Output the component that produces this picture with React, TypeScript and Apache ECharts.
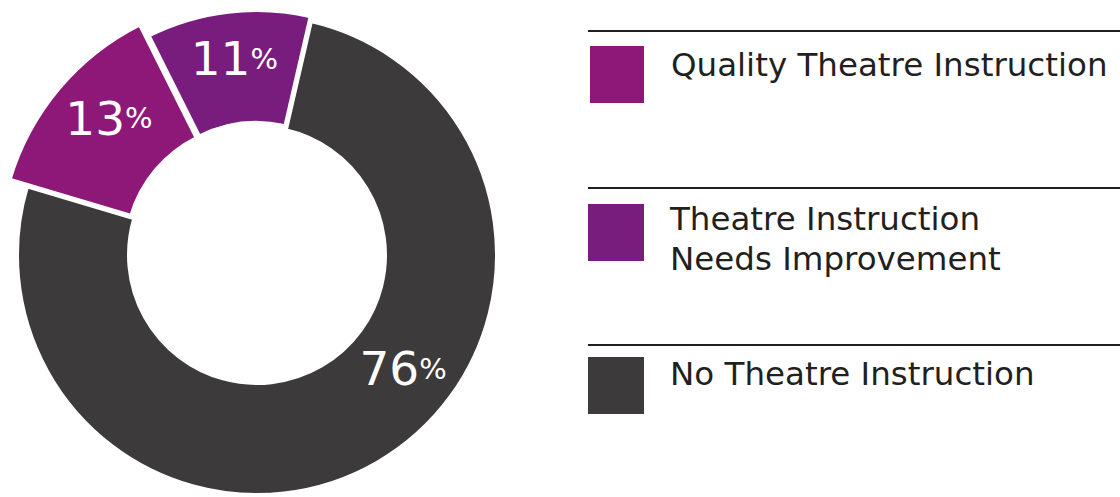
import React, { useEffect, useRef } from "react";
import * as echarts from "echarts";

const categories = [
  "Quality Theatre Instruction",
  "Theatre Instruction\nNeeds Improvement",
  "No Theatre Instruction",
];
const values = [13, 11, 76];
const colors = ["#8E1878", "#781D7E", "#3C3A3B"];
const exploded = [true, true, false];

export default function App() {
  const ref = useRef<HTMLDivElement>(null);
  useEffect(() => {
    document.body.style.margin = "0";
    const chart = echarts.init(ref.current!, null, { renderer: "svg" });
    const labelFont = "DejaVu Sans";
    const legendFont = "DejaVu Sans";
    // per-slice outer radius and label nudges (layout only)
    const outerR = [255, 241, 240];
    const labelShift: [number, number][] = [
      [4, -9],
      [0, -6],
      [52, -48],
    ];
    const mkLegend = (i: number, top: number, h: number, pad: number[]) => ({
      orient: "vertical" as const,
      left: 588,
      top,
      padding: 0,
      icon: "rect",
      itemWidth: 56,
      itemHeight: h,
      selectedMode: false,
      data: [{ name: categories[i], itemStyle: { color: colors[i], opacity: 1 } }],
      formatter: (name: string) => `{t|${name}}`,
      textStyle: {
        fontFamily: legendFont,
        fontSize: 32.5,
        color: "#231F20",
        rich: {
          t: {
            fontFamily: legendFont,
            fontSize: 32.5,
            color: "#231F20",
            lineHeight: 40,
            padding: pad,
          },
        },
      },
    });
    const series = categories.map((_, k) => ({
      type: "pie",
      center: [257, 255],
      radius: [128, outerR[k]],
      startAngle: 163.4,
      clockwise: true,
      selectedMode: "single",
      selectedOffset: 4,
      avoidLabelOverlap: false,
      silent: true,
      emphasis: { disabled: true },
      labelLine: { show: false },
      labelLayout: () => ({ dx: labelShift[k][0], dy: labelShift[k][1] }),
      data: categories.map((name, i) => ({
        name,
        value: values[i],
        selected: i === k && exploded[i],
        itemStyle:
          i === k
            ? { color: colors[i], borderColor: "#ffffff", borderWidth: 4 }
            : { color: colors[i], opacity: 0, borderWidth: 0 },
        label:
          i === k
            ? {
                show: true,
                position: "inside",
                formatter: (p: any) => `{a|${p.value}}{b|%}`,
                rich: {
                  a: { fontFamily: labelFont, fontSize: 47, color: "#ffffff" },
                  b: { fontFamily: labelFont, fontSize: 29, color: "#ffffff" },
                },
              }
            : { show: false },
      })),
    }));
    chart.setOption({
      animation: false,
      color: colors,
      legend: [
        mkLegend(0, 44, 59, [0, 0, 19, 21]),
        mkLegend(1, 190, 57, [12, 0, 0, 21]),
        mkLegend(2, 357, 57, [0, 0, 23, 21]),
      ],
      graphic: [31, 188, 345].map((y) => ({
        type: "line",
        shape: { x1: 588, y1: y, x2: 1120, y2: y },
        style: { stroke: "#231F20", lineWidth: 2 },
        silent: true,
      })),
      series,
    });
    return () => chart.dispose();
  }, []);
  return <div ref={ref} style={{ width: 1120, height: 497 }} />;
}
